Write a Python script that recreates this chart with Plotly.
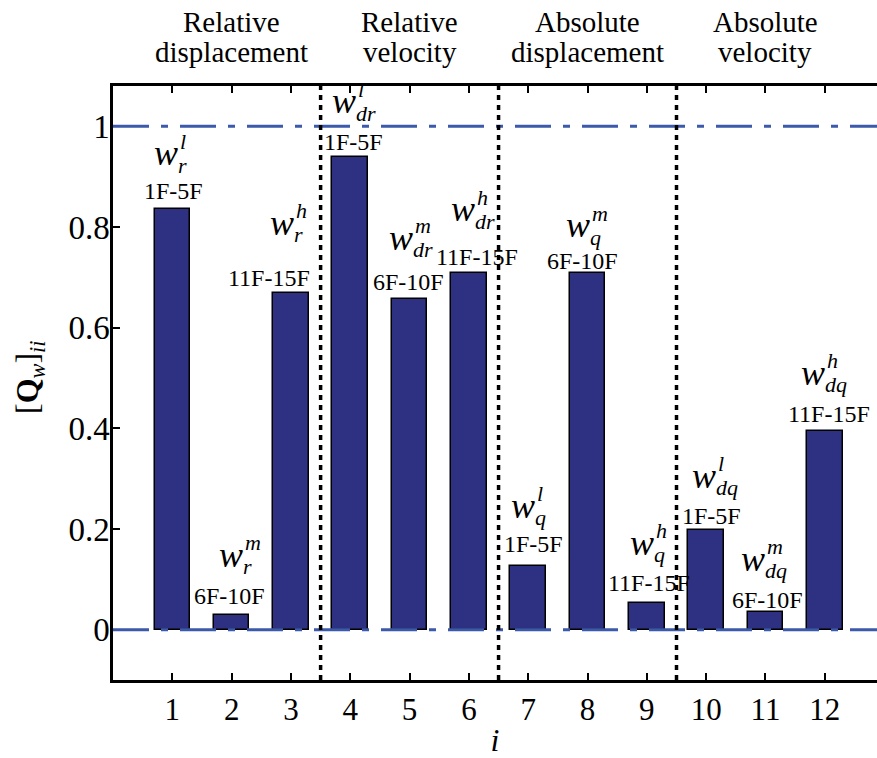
import plotly.graph_objects as go

# ---------------- data ----------------
categories = list(range(1, 13))
values = [0.835, 0.030, 0.669, 0.938, 0.657, 0.708, 0.127, 0.708, 0.053, 0.198, 0.036, 0.395]
band_labels = ["1F-5F", "6F-10F", "11F-15F"] * 4
sup_letters = ["l", "m", "h"] * 4
sub_letters = ["r", "r", "r", "dr", "dr", "dr", "q", "q", "q", "dq", "dq", "dq"]
group_titles = [("Relative", "displacement"), ("Relative", "velocity"),
                ("Absolute", "displacement"), ("Absolute", "velocity")]
group_centers = [2, 5, 8, 11]
separators = [3.5, 6.5, 9.5]
ref_levels = [0, 1]
y_tick_vals = [0, 0.2, 0.4, 0.6, 0.8, 1]
y_tick_text = ["0", "0.2", "0.4", "0.6", "0.8", "1"]

# ---------------- styles ----------------
FONT = "Liberation Serif"
BAR_COLOR = "#2E3082"
REF_COLOR = "#3C5AAA"
# per-bar label placement (pixels): label dx, label dy (from bar top), w dx, w dy (from label)
label_offsets = [(1, -18, -7, -35), (-2, -19, 1, -38), (-22, -15, 13, -52),
                 (3, -15, -9, -38), (-1, -17, -8, -41), (8, -16, -14, -45),
                 (5, -22, -10, -35), (-5, -12, -5, -33), (2, -20, -7, -37),
                 (5, -14, -7, -37), (2, -12, -14, -38), (4, -17, -16, -38)]

fig = go.Figure()
fig.add_trace(go.Bar(x=categories, y=values, width=0.6,
                     marker=dict(color=BAR_COLOR, line=dict(color="black", width=1.5)),
                     hoverinfo="x+y", showlegend=False))

shapes = []
for lv in ref_levels:
    shapes.append(dict(type="line", xref="paper", yref="y", x0=0, x1=1, y0=lv, y1=lv,
                       line=dict(color=REF_COLOR, width=3, dash="36px,12px,7px,12px")))
for s in separators:
    shapes.append(dict(type="line", xref="x", yref="paper", x0=s, x1=s, y0=0, y1=1,
                       line=dict(color="black", width=3.5, dash="5px,5px")))

ann = []
for i, (c, v) in enumerate(zip(categories, values)):
    ldx, ldy, wdx, wdy = label_offsets[i]
    ann.append(dict(x=c, y=v, xref="x", yref="y", text=band_labels[i], showarrow=False,
                    xanchor="center", yanchor="middle", xshift=ldx, yshift=-ldy,
                    font=dict(family=FONT, size=24, color="black")))
    wx = ldx + wdx
    wy = -(ldy + wdy) + 3
    ann.append(dict(x=c, y=v, xref="x", yref="y", text="<i>w</i>", showarrow=False,
                    xanchor="center", yanchor="middle", xshift=wx, yshift=wy,
                    font=dict(family=FONT, size=36, color="black")))
    ann.append(dict(x=c, y=v, xref="x", yref="y", text="<i>%s</i>" % sup_letters[i],
                    showarrow=False, xanchor="left", yanchor="middle",
                    xshift=wx + 12, yshift=wy + 12,
                    font=dict(family=FONT, size=22, color="black")))
    ann.append(dict(x=c, y=v, xref="x", yref="y", text="<i>%s</i>" % sub_letters[i],
                    showarrow=False, xanchor="left", yanchor="middle",
                    xshift=wx + 10, yshift=wy - 12,
                    font=dict(family=FONT, size=22, color="black")))

for (t1, t2), gc in zip(group_titles, group_centers):
    ann.append(dict(x=gc, y=1, xref="x", yref="paper", text=t1, showarrow=False,
                    xanchor="center", yanchor="middle", yshift=64,
                    font=dict(family=FONT, size=29, color="black")))
    ann.append(dict(x=gc, y=1, xref="x", yref="paper", text=t2, showarrow=False,
                    xanchor="center", yanchor="middle", yshift=34,
                    font=dict(family=FONT, size=29, color="black")))

ann.append(dict(x=-0.11, y=0.51, xref="paper", yref="paper",
                text="[<b>Q</b><sub><i>w</i></sub>]<sub><i>ii</i></sub>",
                showarrow=False, textangle=-90, xanchor="center", yanchor="middle",
                font=dict(family=FONT, size=32, color="black")))

fig.update_layout(
    width=877, height=758,
    margin=dict(l=113, r=0, t=86, b=78),
    plot_bgcolor="white", paper_bgcolor="white",
    shapes=shapes, annotations=ann, bargap=0,
    font=dict(family=FONT, size=30, color="black"),
    xaxis=dict(range=[0, 12.88], tickvals=categories, ticks="inside", ticklen=7,
               tickwidth=2, tickcolor="black", showline=True, linewidth=2.5,
               linecolor="black", mirror="ticks", showgrid=False, zeroline=False,
               tickfont=dict(family=FONT, size=31, color="black"),
               title=dict(text="<i>i</i>", standoff=4,
                          font=dict(family=FONT, size=32, color="black"))),
    yaxis=dict(range=[-0.1, 1.08], tickvals=y_tick_vals, ticktext=y_tick_text,
               ticks="inside", ticklen=7, tickwidth=2, tickcolor="black",
               showline=True, linewidth=2.5, linecolor="black", mirror=False,
               showgrid=False, zeroline=False, ticklabelstandoff=-6,
               tickfont=dict(family=FONT, size=33, color="black")),
)

fig.write_html("out.html")
